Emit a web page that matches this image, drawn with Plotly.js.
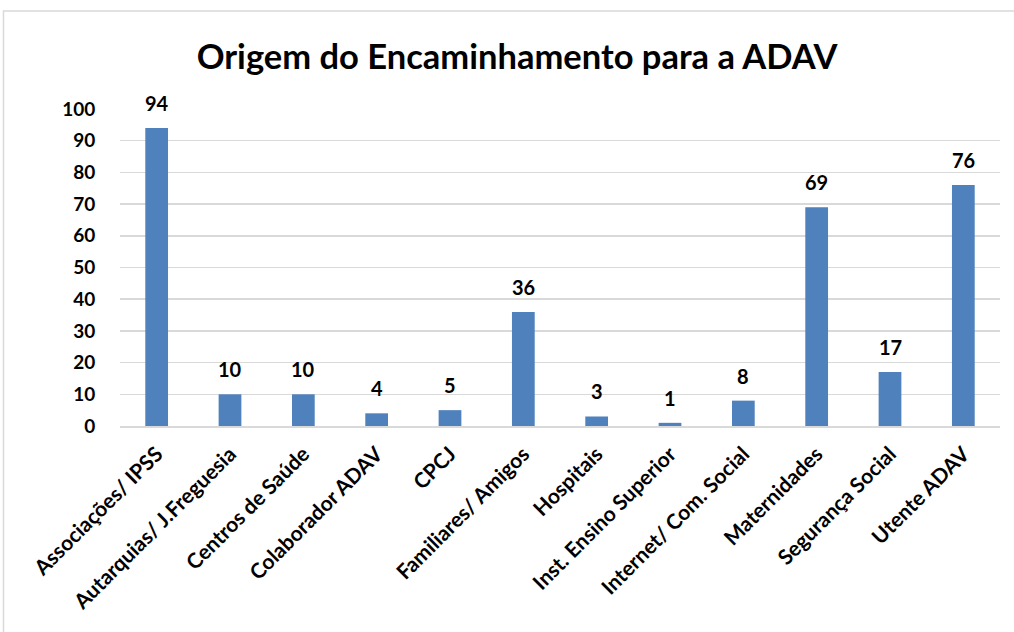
<!DOCTYPE html>
<html>
<head>
<meta charset="utf-8">
<script src="https://cdn.plot.ly/plotly-3.0.1.min.js"></script>
<style>html,body{margin:0;padding:0;background:#fff;}#chart{width:1014px;height:632px;}</style>
</head>
<body>
<div id="chart"></div>
<script>
const categories = [
  "Associações/ IPSS",
  "Autarquias/ J.Freguesia",
  "Centros de Saúde",
  "Colaborador ADAV",
  "CPCJ",
  "Familiares/ Amigos",
  "Hospitais",
  "Inst. Ensino Superior",
  "Internet/ Com. Social",
  "Maternidades",
  "Segurança Social",
  "Utente ADAV"
];
const values = [94, 10, 10, 4, 5, 36, 3, 1, 8, 69, 17, 76];
const yTicks = [0, 10, 20, 30, 40, 50, 60, 70, 80, 90, 100];
const chartTitle = "Origem do Encaminhamento para a ADAV";

const FONT = "Lato, 'Open Sans', sans-serif";

const trace = {
  type: "bar",
  x: categories,
  y: values,
  marker: {color: "#4F81BD"},
  hoverinfo: "x+y"
};

const labelAnnotations = categories.map((c, i) => ({
  x: c,
  y: values[i],
  xref: "x", yref: "y",
  text: String(values[i]),
  showarrow: false,
  yanchor: "middle",
  yshift: 25,
  font: {family: FONT, size: 20, color: "#000", weight: "bold"}
}));

const layout = {
  width: 1014,
  height: 632,
  margin: {l: 120, r: 14, t: 109, b: 206},
  paper_bgcolor: "#fff",
  plot_bgcolor: "#fff",
  showlegend: false,
  bargap: 0.69,
  title: {
    text: chartTitle,
    font: {family: FONT, size: 34.5, color: "#000", weight: "bold"},
    x: 0.51, xanchor: "center",
    y: 0.91, yanchor: "middle"
  },
  xaxis: {
    type: "category",
    tickangle: -45,
    tickfont: {family: FONT, size: 21, color: "#000", weight: "bold"},
    showgrid: false,
    showline: true,
    linecolor: "#d9d9d9",
    linewidth: 1.5,
    ticks: "outside",
    ticklen: 6,
    tickcolor: "rgba(0,0,0,0)",
    fixedrange: true
  },
  yaxis: {
    range: [0, 100],
    tickvals: yTicks,
    ticktext: yTicks.map(String),
    tickfont: {family: FONT, size: 19, color: "#000", weight: "bold"},
    showgrid: true,
    gridcolor: "#d9d9d9",
    gridwidth: 1.5,
    zeroline: false,
    showline: false,
    ticks: "outside",
    ticklen: 20,
    tickcolor: "rgba(0,0,0,0)",
    fixedrange: true
  },
  annotations: labelAnnotations,
  shapes: [{
    type: "rect",
    xref: "paper", yref: "paper",
    x0: -0.1324, x1: 1.06,
    y0: -0.70, y1: 1.309,
    line: {color: "#d9d9d9", width: 1.5},
    fillcolor: "rgba(0,0,0,0)",
    layer: "below"
  }]
};

Plotly.newPlot("chart", [trace], layout, {displayModeBar: false, staticPlot: true});
</script>
</body>
</html>
